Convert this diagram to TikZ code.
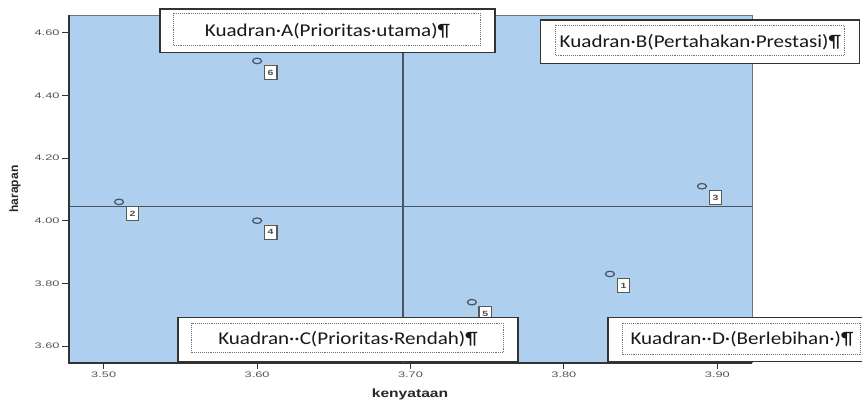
\documentclass[tikz,border=0pt]{standalone}
\usepackage{fontspec}
\usepackage{graphicx}
\usetikzlibrary{positioning,shapes.geometric}
\newfontfamily\boxfont{Carlito}
\newfontfamily\chartfont{Liberation Sans}
\definecolor{plotblue}{RGB}{174,207,237}
\definecolor{markgray}{RGB}{72,84,98}
\definecolor{ticktext}{RGB}{85,85,85}
\newcommand{\wide}[2]{\scalebox{#1}[1]{#2}}
\tikzset{
  ptmark/.style={ellipse, draw=markgray, line width=1.2pt, minimum width=9pt, minimum height=5.5pt, inner sep=0pt},
  ptlabel/.style={draw=black!65, fill=white, line width=1.3pt, minimum width=12.5pt, minimum height=14pt, inner sep=0pt, font=\chartfont\bfseries\fontsize{7.5}{7.5}\selectfont, text=black!70},
  quadbox/.style={draw=black!80, fill=white, line width=1.3pt, minimum height=43.5pt, inner sep=0pt, font=\boxfont\fontsize{18}{18}\selectfont, text=black!90},
  dotbox/.style={draw=black!55, densely dotted, line width=0.9pt},
  quadline/.style={draw=markgray, line width=1.4pt},
  ticklab/.style={font=\chartfont\fontsize{8}{8}\selectfont, text=ticktext, inner sep=2pt},
  axtitle/.style={font=\chartfont\bfseries\fontsize{12}{12}\selectfont, text=black!85}
}
\begin{document}
\begin{tikzpicture}[x=1pt,y=-1pt]
\useasboundingbox (0,0) rectangle (862,402);
% plot area
\coordinate (sw) at (69,363);
\coordinate (ne) at (752,15);
\fill[plotblue] (sw) rectangle (ne);
\draw[black!55, line width=0.9pt] (sw -| ne) -- (ne) -- (ne -| sw);
\draw[black!80, line width=1.6pt] (ne -| sw) -- (sw) -- (sw -| ne);
% data coordinates
\begin{scope}[x=1534pt, y=313.3pt, shift={(-5265.3pt,-1473.9pt)}]
  \foreach \v/\t in {3.5/3.50, 3.6/3.60, 3.7/3.70, 3.8/3.80, 3.9/3.90}
    \draw[black!80, line width=1pt] (\v,4 |- sw) -- ++(0,-6pt) node[ticklab, below] {\wide{1.6}{\t}};
  \foreach \v/\t in {3.6/3.60, 3.8/3.80, 4.0/4.00, 4.2/4.20, 4.4/4.40, 4.6/4.60}
    \draw[black!80, line width=1pt] (sw |- 3.5,\v) -- ++(-7pt,0) node[ticklab, left] {\wide{1.6}{\t}};
  \coordinate (mid) at (3.695,4.045);
  \draw[quadline] (mid |- sw) -- (mid |- ne);
  \draw[quadline] (mid -| sw) -- (mid -| ne);
  \node (p1) [ptmark] at (3.83,3.83) {};
  \node (p2) [ptmark] at (3.51,4.06) {};
  \node (p3) [ptmark] at (3.89,4.11) {};
  \node (p4) [ptmark] at (3.60,4.00) {};
  \node (p5) [ptmark] at (3.74,3.74) {};
  \node (p6) [ptmark] at (3.60,4.51) {};
\end{scope}
\node (n1) [ptlabel, below right=1.5pt and 3pt of p1] {\wide{1.4}{1}};
\node (n2) [ptlabel, below right=1.5pt and 3pt of p2] {\wide{1.4}{2}};
\node (n3) [ptlabel, below right=1.5pt and 3pt of p3] {\wide{1.4}{3}};
\node (n4) [ptlabel, below right=1.5pt and 3pt of p4] {\wide{1.4}{4}};
\node (n5) [ptlabel, below right=1.5pt and 3pt of p5] {\wide{1.4}{5}};
\node (n6) [ptlabel, below right=1.5pt and 3pt of p6] {\wide{1.4}{6}};
% axis titles
\node (xt) [axtitle] at (410,394) {\wide{1.3}{kenyataan}};
\node (yt) [axtitle, rotate=90] at (15,189) {harapan};
% quadrant boxes
\node (qa) [quadbox, minimum width=335pt] at (327.5,30.7) {\wide{1.17}{Kuadran·A(Prioritas·utama)¶}};
\draw[dotbox] ([shift={(14,5)}]qa.north west) rectangle ([shift={(-15,-8)}]qa.south east);
\node (qb) [quadbox, minimum width=319pt] at (700.3,41.7) {\wide{1.17}{Kuadran·B(Pertahakan·Prestasi)¶}};
\draw[dotbox] ([shift={(15,6)}]qb.north west) rectangle ([shift={(-16,-9)}]qb.south east);
\node (qc) [quadbox, minimum width=340pt, minimum height=44.4pt] at (348,339.5) {\wide{1.17}{Kuadran··C(Prioritas·Rendah)¶}};
\draw[dotbox] ([shift={(14,6.7)}]qc.north west) rectangle ([shift={(-15,-9.7)}]qc.south east);
\node (qd) [quadbox, minimum width=268pt, minimum height=44pt] at (742,339.3) {\wide{1.17}{Kuadran··D·(Berlebihan·)¶}};
\draw[dotbox] ([shift={(14.7,6.7)}]qd.north west) rectangle ([shift={(-16,-7.3)}]qd.south east);
\end{tikzpicture}
\end{document}
